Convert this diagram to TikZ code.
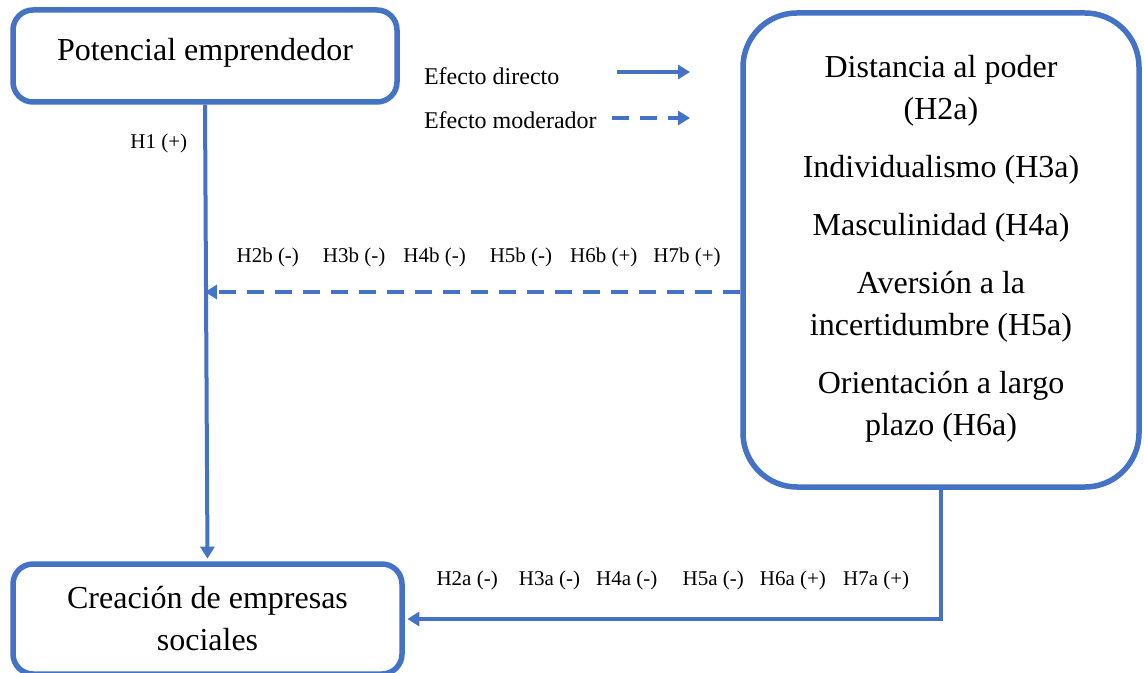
\documentclass[tikz,border=0pt]{standalone}
\usepackage{fontspec}
\setmainfont{Liberation Serif}
\usetikzlibrary{arrows.meta,positioning,calc}
\definecolor{hofblue}{RGB}{68,114,196}

\begin{document}
\begin{tikzpicture}[x=0.5pt,y=-0.5pt,>={Triangle[length=6pt,width=7pt]},
  box/.style={draw=hofblue,line width=2.75pt,fill=white,align=center,font=\fontsize{16}{21}\selectfont},
  direct/.style={->,draw=hofblue,line width=2pt},
  moder/.style={->,draw=hofblue,line width=2pt,dash pattern=on 8.5pt off 5.5pt},
  hyp/.style={font=\fontsize{10.5}{12}\selectfont},
  legend/.style={anchor=west,font=\fontsize{12}{14}\selectfont}]
  \useasboundingbox[fill=white] (0,0) rectangle (1144,673);
  % main boxes
  \node[box,minimum width=192pt,minimum height=46pt,rounded corners=10pt,text depth=7pt] (pot) at (205,56) {Potencial emprendedor};
  \node[box,minimum width=194.5pt,minimum height=55pt,rounded corners=10pt] (crea) at (207.5,619) {Creación de empresas\\sociales};
  \node[box,minimum width=198pt,minimum height=237pt,rounded corners=27pt,text depth=5pt] (cult) at (941,250)
    {Distancia al poder\\(H2a)\\[8pt]Individualismo (H3a)\\[8pt]Masculinidad (H4a)\\[8pt]Aversión a la\\incertidumbre (H5a)\\[8pt]Orientación a largo\\plazo (H6a)};
  % legend
  \node[legend] (ldir) at (417,76) {Efecto directo};
  \node[legend] (lmod) at (417,120) {Efecto moderador};
  \coordinate (ldirA) at (617,72);
  \coordinate (ldirB) at (690,72);
  \coordinate (lmodA) at (612,118);
  \coordinate (lmodB) at (690,118);
  \draw[direct] (ldirA) -- (ldirB);
  \draw[moder] (lmodA) -- (lmodB);
  % effects
  \draw[direct,shorten >=1.3pt] (pot.south) -- node[hyp,pos=0.084,left=4.7pt] {H1 (+)} (crea.north);
  \coordinate (modS) at ([yshift=-21pt]cult.west);
  \draw[moder] (modS) -- node[hyp,above=8pt,xshift=3pt]
    {H2b (-)\hspace{12pt}H3b (-)\hspace{9pt}H4b (-)\hspace{12pt}H5b (-)\hspace{9pt}H6b (+)\hspace{8pt}H7b (+)} (modS -| pot.south);
  \draw[direct,shorten >=1.3pt] (cult.south) |- node[hyp,pos=0.75,above=10pt]
    {H2a (-)\hspace{10.6pt}H3a (-)\hspace{8pt}H4a (-)\hspace{12.6pt}H5a (-)\hspace{8pt}H6a (+)\hspace{8.6pt}H7a (+)} (crea.east);
\end{tikzpicture}
\end{document}
